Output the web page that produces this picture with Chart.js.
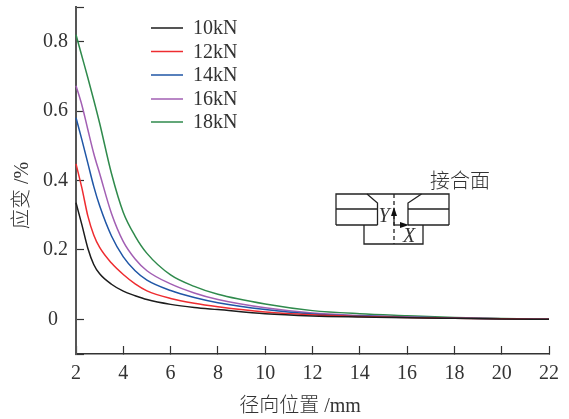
<!DOCTYPE html>
<html><head><meta charset="utf-8">
<style>html,body{margin:0;padding:0;background:#fff}#w{width:569px;height:419px;position:relative}</style>
<script src="https://cdn.jsdelivr.net/npm/chart.js@4"></script>
</head><body><div id="w"><canvas id="c" width="569" height="419"></canvas></div>
<script>
const positions = [2,2.25,2.5,2.75,3,3.5,4,4.5,5,6,7,8,10,12,14,16,18,20,22];
const s10 = [0.336,0.272,0.205,0.158,0.131,0.101,0.081,0.068,0.057,0.043,0.034,0.028,0.016,0.0098,0.0068,0.0045,0.0028,0.0012,0];
const s12 = [0.448,0.378,0.298,0.243,0.207,0.162,0.129,0.102,0.082,0.06,0.046,0.036,0.021,0.0128,0.008,0.005,0.003,0.0013,0];
const s14 = [0.581,0.517,0.45,0.383,0.327,0.24,0.18,0.14,0.113,0.083,0.063,0.048,0.028,0.0155,0.0095,0.006,0.0035,0.0015,0];
const s16 = [0.673,0.617,0.547,0.478,0.42,0.305,0.224,0.174,0.14,0.102,0.076,0.057,0.033,0.018,0.011,0.0065,0.0037,0.0016,0];
const s18 = [0.82,0.758,0.696,0.632,0.565,0.42,0.308,0.24,0.19,0.128,0.095,0.072,0.044,0.025,0.016,0.0105,0.0055,0.002,0];
const seriesNames = ['10kN','12kN','14kN','16kN','18kN'];
const seriesValues = [s10,s12,s14,s16,s18];
const seriesColors = ['#1c1c1c','#ee2c30','#1f56a6','#a25fb3','#2f8a4c'];
const xTicks = [2,4,6,8,10,12,14,16,18,20,22];
const yTicks = [-0.1,0,0.2,0.4,0.6,0.8,0.9];
const xTitle = '径向位置 /mm     ';
const yTitle = '应变 /%      ';
const partLabel = '接合面';

const SERIF = '"Liberation Serif","Noto Sans CJK SC",serif';
const TXT = '#333';

const overlay = {
  id:'overlay',
  afterDraw(chart){
    const g = chart.ctx;
    g.save();
    g.textBaseline='middle'; g.textAlign='left'; g.font='20px '+SERIF;
    const ly=[28,51.5,75,99,122];
    seriesNames.forEach((n,i)=>{
      g.strokeStyle=seriesColors[i]; g.lineWidth=1.5;
      g.beginPath(); g.moveTo(151,ly[i]); g.lineTo(183,ly[i]); g.stroke();
      g.fillStyle=TXT; g.fillText(n,193,ly[i]+1);
    });
    g.strokeStyle='#222'; g.lineWidth=1.3;
    const path=(pts)=>{g.beginPath();pts.forEach((p,i)=>i?g.lineTo(p[0],p[1]):g.moveTo(p[0],p[1]));g.stroke();};
    path([[336,225],[336,194],[449,194],[449,225]]);
    path([[367,194],[377.5,203],[377.5,225]]);
    path([[421.5,194],[408,203],[408,225]]);
    path([[336,209],[377.5,209]]);
    path([[408,209],[449,209]]);
    path([[336,225],[377.5,225]]);
    path([[408,225],[449,225]]);
    path([[364,225],[364,244],[423,244],[423,225]]);
    g.setLineDash([4,3]); path([[394,194],[394,244]]); g.setLineDash([]);
    path([[394,225],[394,212]]); path([[394,225],[403,225]]);
    g.fillStyle='#111';
    g.beginPath();g.moveTo(394,207);g.lineTo(391,216);g.lineTo(397,216);g.closePath();g.fill();
    g.beginPath();g.moveTo(409,225);g.lineTo(400,222);g.lineTo(400,228);g.closePath();g.fill();
    g.fillStyle=TXT; g.textAlign='center';
    g.font='italic 20px '+SERIF;
    g.fillText('Y',384,216.5); g.fillText('X',409,237);
    g.font='300 20px "Noto Sans CJK SC",sans-serif';
    g.fillText(partLabel,460,180);
    g.restore();
  }
};
const noPad = s => { s.paddingLeft=0; s.paddingRight=0; s.paddingTop=0; s.paddingBottom=0; };

new Chart(document.getElementById('c'),{
  type:'line',
  data:{labels:positions,datasets:seriesNames.map((n,i)=>({
    label:n,
    data:positions.map((x,k)=>({x:x,y:seriesValues[i][k]})),
    borderColor:seriesColors[i],backgroundColor:seriesColors[i],
    borderWidth:1.5,pointRadius:0,cubicInterpolationMode:'monotone',fill:false,clip:false
  }))},
  options:{
    responsive:false,animation:false,devicePixelRatio:1,
    layout:{padding:{left:0,right:20,top:7,bottom:0}},
    plugins:{legend:{display:false},tooltip:{enabled:false},title:{display:false}},
    scales:{
      x:{type:'linear',min:2,max:22,
        afterBuildTicks(s){s.ticks=xTicks.map(v=>({value:v}));},
        afterFit(s){s.height=65;noPad(s);},
        grid:{drawOnChartArea:false,tickLength:-8,tickColor:'#333',tickWidth:1.2},
        border:{color:'#333',width:1.5},
        ticks:{color:TXT,padding:16,maxRotation:0,autoSkip:false,font:{family:SERIF,size:20},callback:v=>String(v)},
        title:{display:true,text:xTitle,color:TXT,font:{family:SERIF,size:20,weight:'300'},padding:{top:0,bottom:0}}
      },
      y:{type:'linear',min:-0.1,max:0.9,
        afterBuildTicks(s){s.ticks=yTicks.map(v=>({value:v}));},
        afterFit(s){s.width=76;noPad(s);},
        grid:{drawOnChartArea:false,tickLength:-8,tickColor:'#333',tickWidth:1.2},
        border:{color:'#555',width:2},
        ticks:{color:TXT,padding:16,autoSkip:false,font:{family:SERIF,size:20},
          callback:v=>(v===-0.1||v===0.9)?'':(v===0?'0\u2002':v.toFixed(1))},
        title:{display:true,text:yTitle,color:TXT,font:{family:SERIF,size:20,weight:'300'},padding:{top:11,bottom:0}}
      }
    }
  },
  plugins:[overlay]
});
</script></body></html>
